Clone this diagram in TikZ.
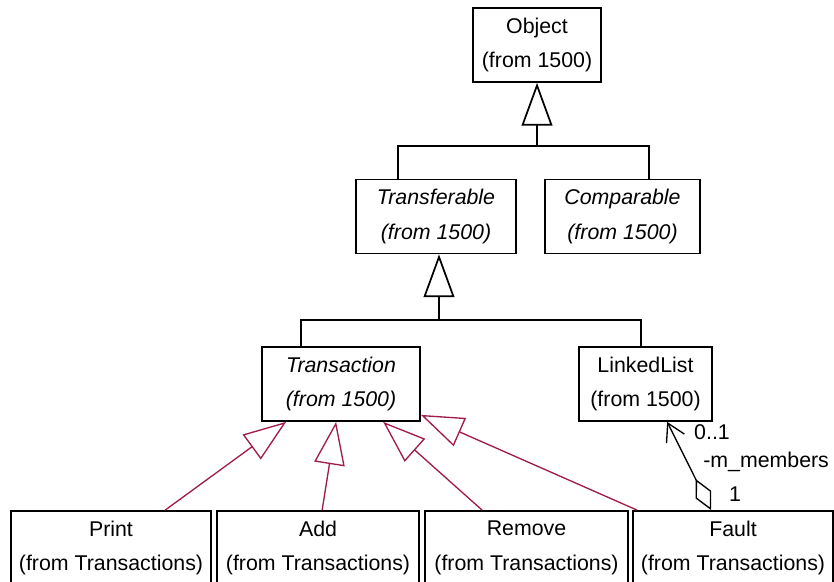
\documentclass[tikz,border=0pt]{standalone}
\usepackage{fontspec}
\setmainfont{Liberation Sans}
\usetikzlibrary{arrows.meta,calc}
\definecolor{RoseRed}{HTML}{A01C4C}

\begin{document}
\begin{tikzpicture}[x=0.75pt, y=-0.75pt,
  cls/.style   = {rectangle, draw, line width=1.3pt, align=center, inner sep=0pt, minimum height=55.5pt, font=\fontsize{16}{26}\selectfont},
  abst/.style  = {cls, font=\fontsize{16}{26}\selectfont\itshape},
  tree/.style  = {line width=1.3pt},
  gen/.style   = {tree, -{Triangle[open, fill=white, length=32pt, width=23pt]}},
  genR/.style  = {gen, draw=RoseRed, line width=1pt},
  assoc/.style = {line width=1pt, {Diamond[open, fill=white, length=26pt, width=13pt]}-{Straight Barb[length=13pt, width=15pt]}},
  lbl/.style   = {font=\fontsize{16}{19}\selectfont, inner sep=0pt}
]
\useasboundingbox (0,0) rectangle (834,581);

% Classes
\node[cls,  minimum width=96pt]     (obj)    at (537,45)    {Object\\(from 1500)};
\node[abst, minimum width=120pt]    (transf) at (436,216.5) {Transferable\\(from 1500)};
\node[abst, minimum width=116.25pt] (comp)   at (622.5,216.5) {Comparable\\(from 1500)};
\node[abst, minimum width=118.5pt]  (trans)  at (341,384)   {Transaction\\(from 1500)};
\node[cls,  minimum width=99.75pt]  (llist)  at (645.5,384) {LinkedList\\(from 1500)};

% Transaction subclasses (cut at the bottom edge)
\node[cls, minimum width=150pt]    (print)  at (111,548)   {Print\\(from Transactions)};
\node[cls, minimum width=151.5pt]  (add)    at (318,548)   {Add\\(from Transactions)};
\node[cls, minimum width=152.25pt] (remove) at (526.5,548) {Remove\\(from Transactions)};
\node[cls, minimum width=150pt]    (fault)  at (733,548)   {Fault\\(from Transactions)};

% Inheritance trees
\coordinate (j1)   at (537,146);
\coordinate (legA) at (398,146);
\coordinate (legB) at (649,146);
\draw[gen]  (j1) -- (obj.south -| j1);
\draw[tree] (transf.north -| legA) -- (legA) -- (legB) -- (comp.north -| legB);

\coordinate (j2)   at (439,320);
\coordinate (legC) at (301,320);
\coordinate (legD) at (641,320);
\draw[gen]  (j2) -- (transf.south -| j2);
\draw[tree] (trans.north -| legC) -- (legC) -- (legD) -- (llist.north -| legD);

% Realised by the transaction classes
\draw[genR] ($(print.north west)+(155,0)$)  -- ($(trans.south west)+(25,0)$);
\draw[genR] ($(add.north west)+(106,0)$)    -- ($(trans.south west)+(75,0)$);
\draw[genR] ($(remove.north west)+(58,0)$)  -- ($(trans.south west)+(122,0)$);
\draw[genR] ($(fault.north west)+(5,0)$)    -- ($(trans.south east)+(0,-7)$);

% Aggregation Fault -> LinkedList
\draw[assoc] ($(fault.north west)+(79,0)$) -- ($(llist.south west)+(89,0)$);
\node[lbl]              (mult0) at (712,432) {0..1};
\node[lbl, anchor=west] (role)  at (703,462) {-m\_members};
\node[lbl]              (mult1) at (735,494) {1};
\end{tikzpicture}
\end{document}
